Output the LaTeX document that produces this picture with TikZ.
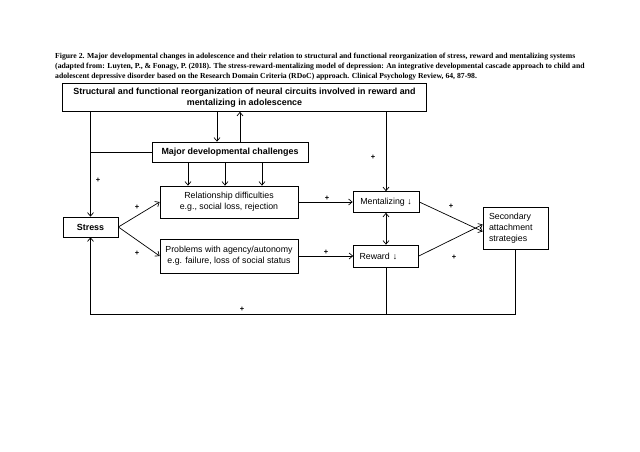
\documentclass[tikz,border=0pt]{standalone}
\usepackage{fontspec}
\setmainfont{Liberation Sans}
\newfontfamily\capfont{Liberation Serif}
\usetikzlibrary{arrows.meta}
\begin{document}
\begin{tikzpicture}[x=1pt,y=-1pt,
  box/.style={draw,line width=0.7pt,inner sep=0pt,align=center,font=\fontsize{8.8}{11}\selectfont},
  bbox/.style={box,font=\fontsize{8.9}{11}\selectfont\bfseries},
  ln/.style={line width=0.7pt},
  arr/.style={ln,-{Straight Barb[length=3.5pt,width=6pt]}},
  darr/.style={ln,{Straight Barb[length=3.5pt,width=6pt]}-{Straight Barb[length=3.5pt,width=6pt]}},
  pl/.style={font=\fontsize{7.5}{7.5}\selectfont\bfseries,inner sep=0pt},
  captxt/.style={anchor=west,inner sep=0pt,font=\capfont\fontsize{7.7}{8}\selectfont\bfseries}]
\useasboundingbox[fill=white] (0,0) rectangle (640,452);
\node[captxt] (c1) at (55,57) {Figure 2. Major developmental changes in adolescence and their relation to structural and functional reorganization of stress, reward and mentalizing systems};
\node[captxt] (c2) at (55,67) {(adapted from: Luyten, P., \& Fonagy, P. (2018). The stress-reward-mentalizing model of depression: An integrative developmental cascade approach to child and};
\node[captxt] (c3) at (55,77) {adolescent depressive disorder based on the Research Domain Criteria (RDoC) approach. Clinical Psychology Review, 64, 87-98.};

\node[bbox,minimum width=364pt,minimum height=28pt] (top) at (244.5,97.5) {Structural and functional reorganization of neural circuits involved in reward and\\mentalizing in adolescence};
\node[bbox,minimum width=156pt,minimum height=20pt] (major) at (230,152) {Major developmental challenges};
\node[box,minimum width=138pt,minimum height=32pt] (rel) at (229,202) {Relationship difficulties\\e.g., social loss, rejection};
\node[box,minimum width=138pt,minimum height=34pt] (prob) at (229,256) {Problems with agency/autonomy\\e.g. failure, loss of social status};
\node[bbox,minimum width=55pt,minimum height=20pt] (stress) at (90.5,227) {Stress};
\node[box,minimum width=66pt,minimum height=21pt] (ment) at (386,202) {Mentalizing \char"2193};
\node[box,minimum width=65pt,minimum height=22pt,text width=53pt,align=left] (rew) at (386,256) {Reward \char"2193};
\node[box,minimum width=65pt,minimum height=42pt,text width=53pt,align=left] (sec) at (515.5,228) {Secondary\\attachment\\strategies};

\coordinate (d1) at (217,0);
\coordinate (u1) at (240,0);
\coordinate (m1) at (188,0);
\coordinate (m2) at (225,0);
\coordinate (m3) at (262,0);
\coordinate (bot) at (0,314);

\draw[arr] (top.south -| d1) -- (major.north -| d1);
\draw[arr] (major.north -| u1) -- (top.south -| u1);
\draw[arr] (top.south -| stress.north) -- (stress.north);
\draw[ln] (major.west) -- (major.west -| stress.north);
\draw[arr] (top.south -| ment.north) -- (ment.north);
\draw[arr] (major.south -| m1) -- (rel.north -| m1);
\draw[arr] (major.south -| m2) -- (rel.north -| m2);
\draw[arr] (major.south -| m3) -- (rel.north -| m3);
\draw[arr] (stress.east) -- (rel.west);
\draw[arr] (stress.east) -- (prob.west);
\draw[arr] (rel.east) -- (ment.west);
\draw[arr] (prob.east) -- (rew.west);
\draw[darr] (ment.south) -- (rew.north);
\draw[arr] (ment.east) -- ([yshift=-3.5pt]sec.west);
\draw[arr] (rew.east) -- ([yshift=3.5pt]sec.west);
\draw[ln] (rew.south) -- (rew.south |- bot);
\draw[arr] (sec.south) -- (sec.south |- bot) -- (stress.south |- bot) -- (stress.south);

\node[pl] (p1) at (98,180) {+};
\node[pl] (p2) at (137,207) {+};
\node[pl] (p3) at (137,253) {+};
\node[pl] (p4) at (327,198.5) {+};
\node[pl] (p5) at (326,252.5) {+};
\node[pl] (p6) at (373,157) {+};
\node[pl] (p7) at (451,206) {+};
\node[pl] (p8) at (454,257) {+};
\node[pl] (p9) at (242,309.5) {+};
\end{tikzpicture}
\end{document}
